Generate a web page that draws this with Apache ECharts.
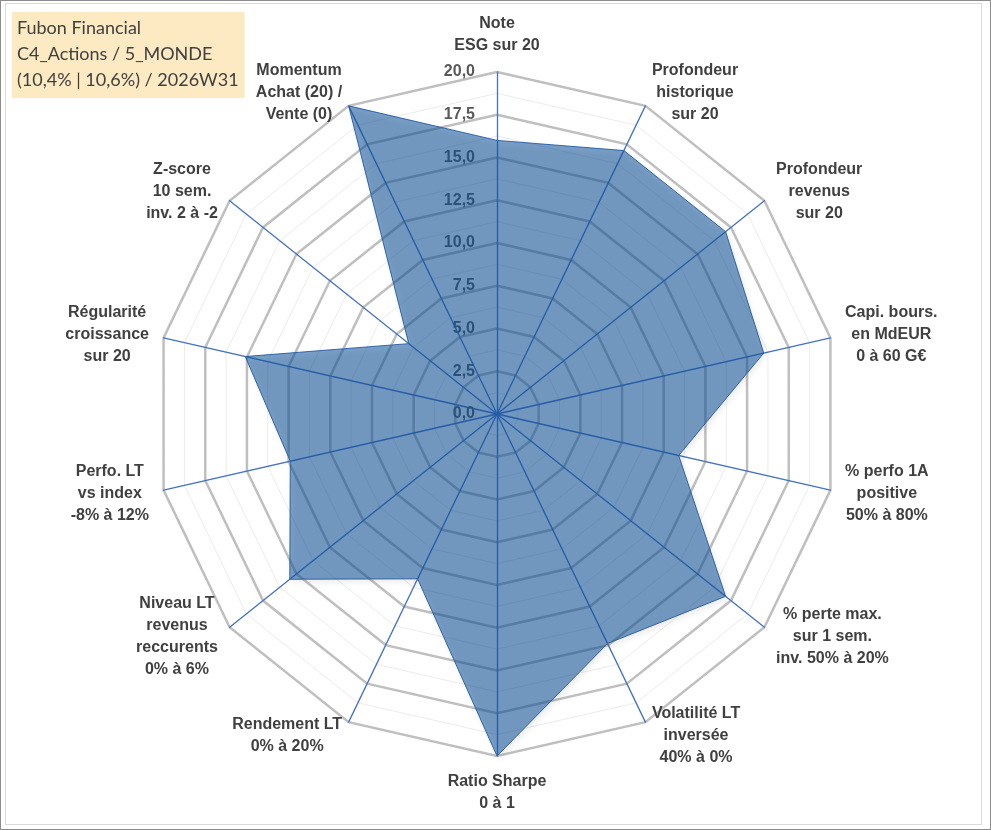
<!DOCTYPE html>
<html>
<head>
<meta charset="utf-8">
<script src="https://cdn.jsdelivr.net/npm/echarts@6/dist/echarts.min.js"></script>
<style>
    html, body { margin: 0; padding: 0; background: #fff; }
    #radar { position: absolute; left: 0; top: 0; width: 991px; height: 830px; }
    #frame { position: absolute; left: 0; top: 0; width: 991px; height: 830px; box-sizing: border-box; border: 1px solid #8c8c8c; pointer-events: none; }
    #inner { position: absolute; left: 5px; top: 3px; width: 977px; height: 822px; box-sizing: border-box; border: 1px solid #dadada; pointer-events: none; }
</style>
</head>
<body>
<div id="radar"></div>
<div id="frame"></div>
<div id="inner"></div>
<script>
// axes listed clockwise from the top, as in the spreadsheet
var indicatorNames = [
    'Note\nESG sur 20',
    'Profondeur\nhistorique\nsur 20',
    'Profondeur\nrevenus\nsur 20',
    'Capi. bours.\nen MdEUR\n0 à 60 G€',
    '% perfo 1A\npositive\n50% à 80%',
    '% perte max.\nsur 1 sem.\ninv. 50% à 20%',
    'Volatilité LT\ninversée\n40% à 0%',
    'Ratio Sharpe\n0 à 1',
    'Rendement LT\n0% à 20%',
    'Niveau LT\nrevenus\nreccurents\n0% à 6%',
    'Perfo. LT\nvs index\n-8% à 12%',
    'Régularité\ncroissance\nsur 20',
    'Z-score\n10 sem.\ninv. 2 à -2',
    'Momentum\nAchat (20) /\nVente (0)'
];
var scores = [16.0, 17.1, 17.1, 16.0, 10.9, 17.1, 14.9, 20.0, 10.7, 15.5, 12.4, 15.1, 6.6, 20.0];
var scaleMax = 20;
var majorSplits = 8;   // 2,5 steps
var minorSplits = 16;  // 1,25 steps
var titleLines = ['Fubon Financial', 'C4_Actions / 5_MONDE', '(10,4% | 10,6%) / 2026W31'];

// echarts draws radar axes counter-clockwise, so keep the first one and flip the rest
var order = [0];
for (var i = indicatorNames.length - 1; i > 0; i--) order.push(i);

var centre = [497, 414];
var radius = 342;

function tickFmt(v) {
    return v.toFixed(1).replace('.', ',');
}

var mainIndicators = order.map(function (i, k) {
    var ind = { name: indicatorNames[i], min: 0, max: scaleMax };
    if (k === 0) {
        ind.axisLabel = {
            show: true,
            formatter: tickFmt,
            color: '#595959',
            fontFamily: 'Liberation Sans',
            fontWeight: 'bold',
            fontSize: 16,
            margin: 22
        };
    }
    return ind;
});
var minorIndicators = order.map(function (i) {
    return { name: '', min: 0, max: scaleMax };
});

var option = {
    backgroundColor: '#fff',
    title: {
        text: titleLines.join('\n'),
        left: 12,
        top: 12,
        padding: [3, 6, 5, 5],
        backgroundColor: '#fde9c2',
        textStyle: {
            fontFamily: 'Lato',
            fontWeight: 'normal',
            fontSize: 18,
            lineHeight: 26,
            color: '#404040'
        }
    },
    radar: [{
        // light minor gridlines
        center: centre,
        radius: radius,
        shape: 'polygon',
        splitNumber: minorSplits,
        indicator: minorIndicators,
        axisName: { show: false },
        axisLine: { show: false },
        axisTick: { show: false },
        axisLabel: { show: false },
        splitArea: { show: false },
        splitLine: { lineStyle: { color: '#ececec', width: 1 } }
    }, {
        center: centre,
        radius: radius,
        shape: 'polygon',
        splitNumber: majorSplits,
        indicator: mainIndicators,
        nameGap: 15,
        axisName: {
            color: '#404040',
            fontFamily: 'Liberation Sans',
            fontWeight: 'bold',
            fontSize: 16,
            lineHeight: 22,
            formatter: function (name) {
                return name.split('\n').map(function (l) { return '{c|' + l + '}'; }).join('\n');
            },
            rich: {
                c: {
                    align: 'center',
                    color: '#404040',
                    fontFamily: 'Liberation Sans',
                    fontWeight: 'bold',
                    fontSize: 16,
                    lineHeight: 22
                }
            }
        },
        axisLine: { lineStyle: { color: '#4472c4', width: 1.3 } },
        axisTick: { show: false },
        axisLabel: { show: false },
        splitArea: { show: false },
        splitLine: { lineStyle: { color: '#bfbfbf', width: 2.5 } }
    }],
    series: [{
        type: 'radar',
        radarIndex: 1,
        symbol: 'none',
        silent: true,
        lineStyle: { color: '#3f6fb5', width: 1 },
        areaStyle: {
            color: '#0f529a',
            opacity: 0.55,
            shadowColor: 'rgba(0, 0, 0, 0.15)',
            shadowBlur: 6,
            shadowOffsetX: 2,
            shadowOffsetY: 3
        },
        data: [{ value: order.map(function (i) { return scores[i]; }) }]
    }]
};

var chart = echarts.init(document.getElementById('radar'));
chart.setOption(option);
</script>
</body>
</html>
